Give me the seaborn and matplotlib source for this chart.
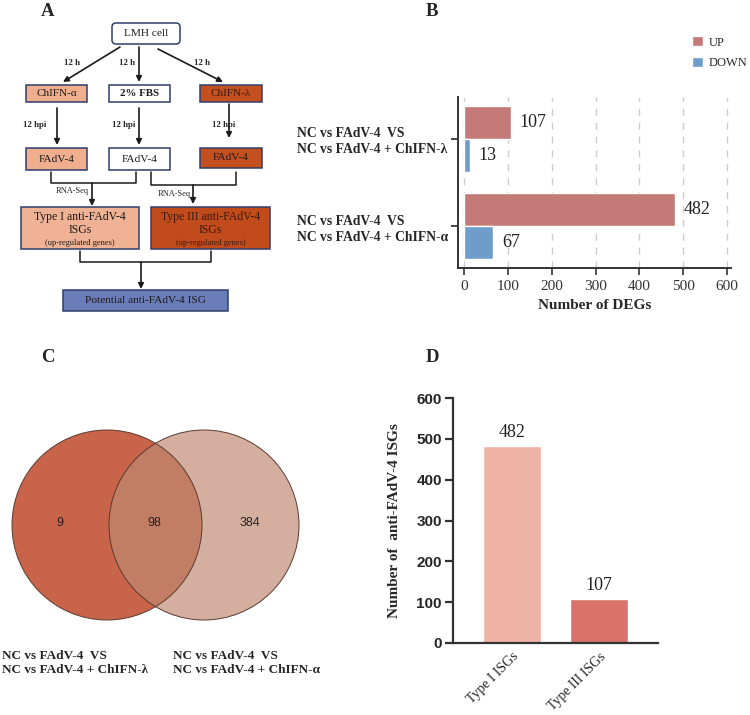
import numpy as np
import pandas as pd
import matplotlib.pyplot as plt
from matplotlib.patches import Rectangle, FancyBboxPatch, Circle
import seaborn as sns

# ---- data ----
comparisons = ['NC vs FAdV-4  VS\nNC vs FAdV-4 + ChIFN-λ',
               'NC vs FAdV-4  VS\nNC vs FAdV-4 + ChIFN-α']
up_counts = [107, 482]
down_counts = [13, 67]

venn_only_lambda = 9
venn_both = 98
venn_only_alpha = 384

isg_types = ['Type I ISGs', 'Type III ISGs']
isg_counts = [482, 107]

sns.set_style('ticks')
plt.rcParams['font.family'] = ['Liberation Serif', 'DejaVu Serif']

W, H = 750, 715
fig = plt.figure(figsize=(7.5, 7.15), dpi=100)


def px_axes(x0, y0, x1, y1):
    return fig.add_axes([x0 / W, 1 - y1 / H, (x1 - x0) / W, (y1 - y0) / H])


# overlay in pixel coords (flowchart, venn, panel letters)
ov = fig.add_axes([0, 0, 1, 1])
ov.set_xlim(0, W)
ov.set_ylim(H, 0)
ov.axis('off')

for letter, x, y in [('A', 48, 12), ('B', 432, 11), ('C', 48, 357), ('D', 432, 357)]:
    ov.text(x, y, letter, fontsize=13.5, fontweight='bold', ha='center', va='center')

# ---- panel A flowchart ----
edge = '#2F3D6B'
pale = '#EFAE8E'
dark = '#C5501F'
boxes = [
    (112, 23, 180, 44, 'white', True),
    (26, 85, 87, 102, pale, False),
    (109, 85, 170, 102, 'white', False),
    (200, 85, 262, 102, dark, False),
    (26, 148, 87, 170, pale, False),
    (109, 148, 170, 170, 'white', False),
    (200, 148, 262, 168, dark, False),
    (21, 207, 139, 249, '#EFB294', False),
    (151, 207, 270, 249, '#C24B1B', False),
    (63, 290, 228, 311, '#6B7DB8', False),
]
for x0, y0, x1, y1, fc, rnd in boxes:
    if rnd:
        p = FancyBboxPatch((x0, y0), x1 - x0, y1 - y0, boxstyle='round,pad=0,rounding_size=4',
                           fc=fc, ec=edge, lw=1.1)
    else:
        p = Rectangle((x0, y0), x1 - x0, y1 - y0, fc=fc, ec=edge, lw=1.1)
    ov.add_patch(p)

txt = '#1e1a1a'
ov.text(146, 33.5, 'LMH cell', fontsize=8.2, ha='center', va='center', color=txt)
ov.text(56.5, 93.5, 'ChIFN-α', fontsize=8, ha='center', va='center', color=txt)
ov.text(139.5, 93.5, '2% FBS', fontsize=7.8, ha='center', va='center', color=txt, fontweight='bold')
ov.text(231, 93.5, 'ChIFN-λ', fontsize=8, ha='center', va='center', color='#3a1a10')
for cx, cy in [(56.5, 159), (139.5, 159), (231, 158)]:
    ov.text(cx, cy, 'FAdV-4', fontsize=8.2, ha='center', va='center', color=txt)
for cx, col in [(80, txt), (210.5, '#3a1a10')]:
    lab = 'Type I anti-FAdV-4' if cx < 150 else 'Type III anti-FAdV-4'
    ov.text(cx, 217, lab, fontsize=8.5, ha='center', va='center', color=col)
    ov.text(cx, 230, 'ISGs', fontsize=8.5, ha='center', va='center', color=col)
    ov.text(cx, 243, '(up-regulated genes)', fontsize=6, ha='center', va='center', color=col)
ov.text(145.5, 300.5, 'Potential anti-FAdV-4 ISG', fontsize=8.2, ha='center', va='center', color=txt)

arrow_kw = dict(arrowstyle='-|>', color='#1a1a1a', lw=1.2, mutation_scale=8, shrinkA=0, shrinkB=0)
for start, end in [((120, 47), (63, 82)), ((139, 47), (139, 82)), ((158, 49), (223, 82)),
                   ((57, 108), (57, 145)), ((139, 108), (139, 145)), ((229, 104), (229, 138)),
                   ((92, 183), (92, 206)), ((193, 185), (193, 204)), ((141, 262), (141, 289))]:
    ov.annotate('', xy=end, xytext=start, arrowprops=arrow_kw)

for xs, ys in [([51, 51, 136, 136], [172, 183, 183, 172]),
               ([151, 151, 236, 236], [172, 185, 185, 172]),
               ([80, 80, 211, 211], [251, 262, 262, 251])]:
    ov.plot(xs, ys, color='#1a1a1a', lw=1.1)

for x, y in [(72, 63), (127, 63), (202, 63)]:
    ov.text(x, y, '12 h', fontsize=6.3, ha='center', va='center', fontweight='bold')
for x, y in [(35, 125), (124, 125), (224, 125)]:
    ov.text(x, y, '12 hpi', fontsize=6.3, ha='center', va='center', fontweight='bold')
ov.text(72, 191, 'RNA-Seq', fontsize=6, ha='center', va='center')
ov.text(174, 194, 'RNA-Seq', fontsize=6, ha='center', va='center')

# ---- panel B ----
axB = px_axes(458, 97, 731, 268)
dfB = pd.DataFrame({'comparison': comparisons * 2,
                    'count': up_counts + down_counts,
                    'direction': ['UP'] * 2 + ['DOWN'] * 2})
sns.barplot(data=dfB, x='count', y='comparison', hue='direction', orient='h',
            palette={'UP': '#C47B78', 'DOWN': '#6F9DCB'}, width=0.76, gap=0,
            saturation=1, ax=axB)
for cont in axB.containers:
    axB.bar_label(cont, padding=6, fontsize=13, color='#222222')
axB.set_xlim(-14, 609)
axB.set_ylim(1.48, -0.48)
axB.set_xticks(range(0, 601, 100))
axB.xaxis.grid(True, linestyle=(0, (5, 5)), color='#cccccc', lw=1)
axB.set_axisbelow(True)
axB.set_ylabel('')
axB.set_xlabel('Number of DEGs', fontsize=11, fontweight='bold', labelpad=4)
sns.despine(ax=axB)
for s in ['left', 'bottom']:
    axB.spines[s].set_linewidth(1.4)
    axB.spines[s].set_color('#333333')
axB.tick_params(axis='y', length=5, width=1.2, pad=111, labelsize=9.8)
axB.tick_params(axis='x', length=5, width=1.2, labelsize=11, pad=4, colors='#333333')
for lab in axB.get_yticklabels():
    lab.set_ha('left')
    lab.set_fontweight('bold')
    lab.set_linespacing(1.3)
axB.legend(loc='upper left', bbox_to_anchor=(692 / W, 1 - 36 / H), bbox_transform=fig.transFigure,
           frameon=False, fontsize=9, handlelength=0.9, handleheight=0.9, handletextpad=0.45,
           labelspacing=0.65, borderpad=0, borderaxespad=0, title=None)

# ---- panel C venn ----
left_c = Circle((107, 525), 95, fc='#C8644A', ec='none')
right_c = Circle((204, 525), 95, fc='#C08973', ec='none', alpha=0.68)
ov.add_patch(left_c)
ov.add_patch(right_c)
for cx in [107, 204]:
    ov.add_patch(Circle((cx, 525), 95, fc='none', ec='#5a3a30', lw=0.7))
for x, v in [(60, venn_only_lambda), (154, venn_both), (250, venn_only_alpha)]:
    ov.text(x, 523, str(v), fontsize=9, ha='center', va='center', family='Liberation Sans', color='#222222')
ov.text(2, 663, comparisons[0], fontsize=9.5, fontweight='bold', ha='left', va='center', linespacing=1.3)
ov.text(173, 663, comparisons[1], fontsize=9.5, fontweight='bold', ha='left', va='center', linespacing=1.3)

# ---- panel D ----
axD = px_axes(453, 398, 658, 643)
sns.barplot(x=isg_types, y=isg_counts, hue=isg_types, palette=['#EFB2A7', '#D9736A'],
            width=0.67, saturation=1, legend=False, ax=axD)
for cont in axD.containers:
    axD.bar_label(cont, padding=4, fontsize=13, color='#222222')
axD.set_xlim(-0.68, 1.68)
axD.set_ylim(0, 600)
axD.set_yticks(range(0, 601, 100))
sns.despine(ax=axD)
for s in ['left', 'bottom']:
    axD.spines[s].set_linewidth(1.6)
    axD.spines[s].set_color('#333333')
axD.tick_params(axis='y', length=6, width=1.6, color='#333333', pad=2)
axD.tick_params(axis='x', length=0, pad=5, labelsize=10)
for lab in axD.get_yticklabels():
    lab.set_family('Liberation Sans')
    lab.set_fontweight('bold')
    lab.set_fontsize(11)
for lab in axD.get_xticklabels():
    lab.set_rotation(45)
    lab.set_ha('right')
    lab.set_rotation_mode('anchor')
axD.set_ylabel('Number of  anti-FAdV-4 ISGs', fontsize=11, fontweight='bold', labelpad=11)

fig.savefig('out.png', dpi=100)
